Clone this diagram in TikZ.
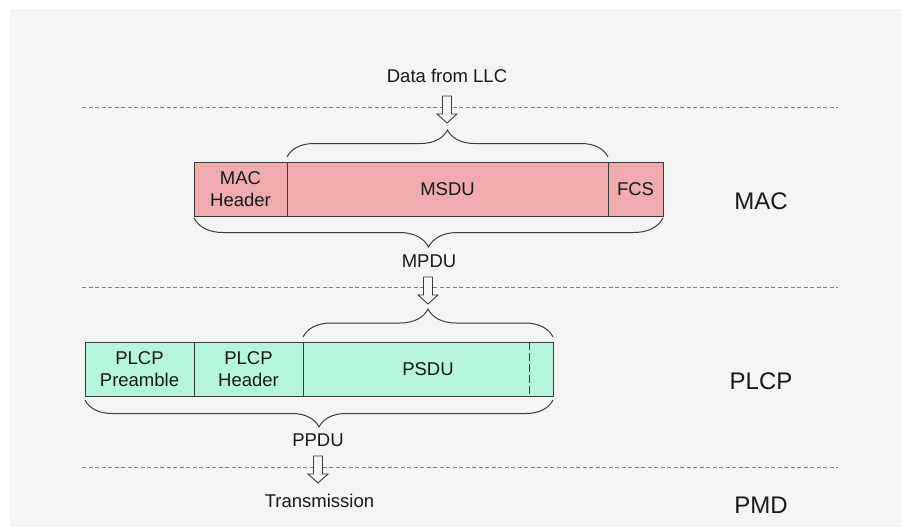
\documentclass[tikz,border=0pt]{standalone}
\usepackage{fontspec}
\setmainfont{Liberation Sans}
\usepackage{tikz}
\usetikzlibrary{positioning, decorations.pathreplacing}
\definecolor{bggrey}{HTML}{F4F4F4}
\definecolor{macpink}{HTML}{F0ACAC}
\definecolor{plcpgreen}{HTML}{B4F5DC}
\definecolor{edgegrey}{HTML}{3C3C3C}
\tikzstyle{field} = [draw=edgegrey, line width=0.9pt, minimum height=54pt, inner sep=0pt, outer sep=0pt, align=center, text=black!90, font=\fontsize{18.5}{21.5}\selectfont]
\tikzstyle{layerline} = [draw=black!50, line width=0.8pt, dash pattern=on 4pt off 2.5pt]
\tikzstyle{bracket} = [draw=edgegrey, line width=1pt, decorate]
\tikzstyle{txt} = [font=\fontsize{18.5}{21.5}\selectfont, text=black!90]
\tikzstyle{layername} = [font=\fontsize{24}{28}\selectfont, text=black!90]
\tikzset{pics/downarrow/.style={code={
  \draw[edgegrey, line width=0.9pt, fill=bggrey, line join=miter]
    (-4.5,0) -- (4.5,0) -- (4.5,18) -- (10,18) -- (0,27) -- (-10,18) -- (-4.5,18) -- cycle;}}}

\begin{document}
\begin{tikzpicture}[x=1pt, y=-1pt]

% Page and background
\fill[white] (0,0) rectangle (901,527);
\fill[bggrey] (10,9) rectangle (901,527);
\useasboundingbox (0,0) rectangle (901,527);

% Layer boundaries
\draw[layerline] (82,107) -- (838,107);
\draw[layerline] (82,287) -- (838,287);
\draw[layerline] (82,467) -- (838,467);

% Layer names
\node[layername] (maclayer) at (761,201) {MAC};
\node[layername] (plcplayer) at (761,381) {PLCP};
\node[layername] (pmdlayer) at (761,505) {PMD};

% MAC frame
\node[field, fill=macpink, minimum width=93pt] (machdr) at (240.5,189) {MAC\\Header};
\node[field, fill=macpink, minimum width=321pt, right=0pt of machdr] (msdu) {MSDU};
\node[field, fill=macpink, minimum width=55pt, right=0pt of msdu] (fcs) {FCS};

% PLCP frame
\node[field, fill=plcpgreen, minimum width=109pt] (preamble) at (139.5,369) {PLCP\\Preamble};
\node[field, fill=plcpgreen, minimum width=109pt, right=0pt of preamble] (plcphdr) {PLCP\\Header};
\node[field, fill=plcpgreen, minimum width=250pt, right=0pt of plcphdr] (psdu) {PSDU};
\draw[edgegrey, line width=0.9pt, dash pattern=on 8pt off 3pt]
  ([xshift=-24pt]psdu.north east) -- ([xshift=-24pt]psdu.south east);

% Braces
\draw[bracket, decoration={brace, amplitude=27pt}]
  ([yshift=5pt]msdu.north west) -- ([yshift=5pt]msdu.north east);
\draw[bracket, decoration={brace, amplitude=29pt}]
  ([yshift=-2pt]fcs.south east) -- ([yshift=-2pt]machdr.south west);
\draw[bracket, decoration={brace, amplitude=28pt}]
  ([yshift=5pt]psdu.north west) -- ([yshift=5pt]psdu.north east);
\draw[bracket, decoration={brace, amplitude=27pt}]
  ([yshift=-4pt]psdu.south east) -- ([yshift=-4pt]preamble.south west);

% Data units
\node[txt] (llc) at (447,76) {Data from LLC};
\node[txt] (mpdu) at (429,261) {MPDU};
\node[txt] (ppdu) at (318,440) {PPDU};
\node[txt] (tx) at (319.5,501) {Transmission};

% Hollow arrows
\pic (llcarrow) at (447,96) {downarrow};
\pic (mpduarrow) at (428,277) {downarrow};
\pic (ppduarrow) at (318,456) {downarrow};

\end{tikzpicture}
\end{document}
